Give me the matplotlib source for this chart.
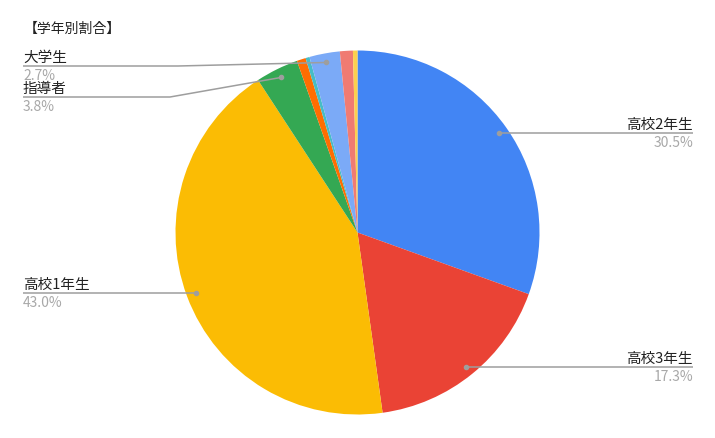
import matplotlib
matplotlib.use("Agg")
import matplotlib.pyplot as plt
import numpy as np

plt.rcParams['font.family'] = ['Noto Sans CJK JP', 'DejaVu Sans']

title = "【学年別割合】"
categories = ["高校2年生", "高校3年生", "高校1年生", "指導者", "その他A", "その他B", "大学生", "その他C", "その他D"]
values = [30.5, 17.3, 43.0, 3.8, 0.8, 0.35, 2.7, 1.15, 0.4]
pct_labels = ["30.5%", "17.3%", "43.0%", "3.8%", None, None, "2.7%", None, None]
colors = ["#4285F4", "#EA4335", "#FBBC04", "#34A853", "#FF6D01", "#46BDC6", "#7BAAF7", "#F07B72", "#FCD04F"]

W, H = 715, 439
fig = plt.figure(figsize=(W / 100, H / 100), dpi=100)
ax = fig.add_axes([0, 0, 1, 1])

cx, cy, R = 357.5, H - 233.5, 182
wedges, _ = ax.pie(values, colors=colors, startangle=90, counterclock=False,
                   center=(cx, cy), radius=R, normalize=True,
                   wedgeprops=dict(linewidth=0))
ax.set_xlim(0, W)
ax.set_ylim(0, H)
ax.set_aspect('equal', adjustable='box')
ax.axis('off')

# label layout: (index, side, line_y(px from top), bend_x or None)
layout = [
    (0, 'right', None, None),
    (1, 'right', None, None),
    (2, 'left', None, None),
    (3, 'left', 98, 170),
    (6, 'left', 67, 178),
]
line_col = "#9e9e9e"
for idx, side, ly, bend in layout:
    w = wedges[idx]
    mid = np.deg2rad((w.theta1 + w.theta2) / 2)
    px = cx + 0.95 * R * np.cos(mid)
    py = cy + 0.95 * R * np.sin(mid)
    if ly is None:
        ly_d = py
    else:
        ly_d = H - ly
    if side == 'right':
        xs, ys = [px, 693], [py, ly_d]
        tx, ha = 693, 'right'
    else:
        if bend is None:
            xs, ys = [23, px], [ly_d, py]
        else:
            xs, ys = [23, bend, px], [ly_d, ly_d, py]
        tx, ha = 23, 'left'
    ax.plot(xs, ys, color=line_col, lw=1.1, solid_capstyle='butt')
    ax.plot([px], [py], 'o', color=line_col, ms=3)
    ax.text(tx, ly_d + 9, categories[idx], ha=ha, va='center', fontsize=10.5, color="#222222")
    ax.text(tx, ly_d - 9, pct_labels[idx], ha=ha, va='center', fontsize=10, color="#a8a8a8")

ax.text(24, H - 29, title, ha='left', va='center', fontsize=10, color="#222222")

fig.savefig("out.png", dpi=100)
